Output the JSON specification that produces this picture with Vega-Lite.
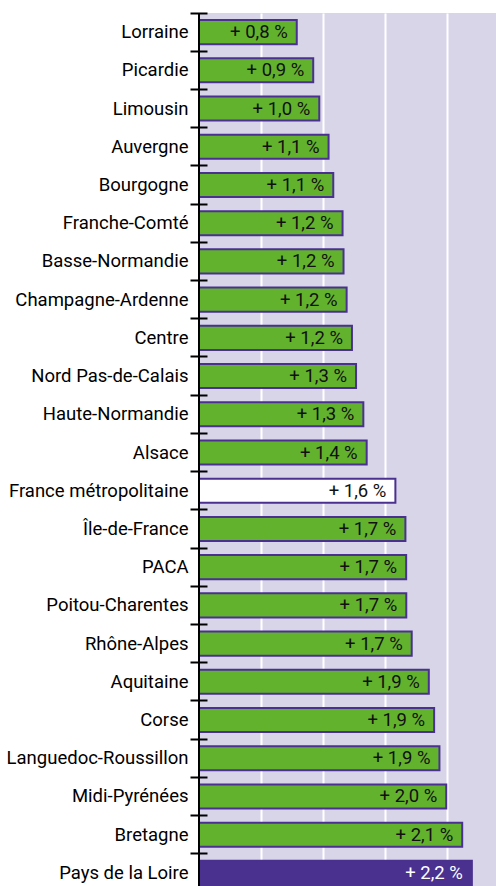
{
  "$schema": "https://vega.github.io/schema/vega-lite/v6.json",
  "autosize": {"type": "none"},
  "padding": {"left": 199, "top": 13, "right": 0, "bottom": 0},
  "width": 297,
  "height": 879,
  "config": {
    "view": {"fill": "#d9d5e9", "stroke": null},
    "font": "Roboto, 'Liberation Sans', sans-serif"
  },
  "data": {
    "values": [
      {"region": "Lorraine", "value": 0.79, "label": "+ 0,8 %", "type": "région"},
      {"region": "Picardie", "value": 0.923, "label": "+ 0,9 %", "type": "région"},
      {"region": "Limousin", "value": 0.972, "label": "+ 1,0 %", "type": "région"},
      {"region": "Auvergne", "value": 1.047, "label": "+ 1,1 %", "type": "région"},
      {"region": "Bourgogne", "value": 1.085, "label": "+ 1,1 %", "type": "région"},
      {"region": "Franche-Comté", "value": 1.16, "label": "+ 1,2 %", "type": "région"},
      {"region": "Basse-Normandie", "value": 1.168, "label": "+ 1,2 %", "type": "région"},
      {"region": "Champagne-Ardenne", "value": 1.193, "label": "+ 1,2 %", "type": "région"},
      {"region": "Centre", "value": 1.236, "label": "+ 1,2 %", "type": "région"},
      {"region": "Nord Pas-de-Calais", "value": 1.269, "label": "+ 1,3 %", "type": "région"},
      {"region": "Haute-Normandie", "value": 1.328, "label": "+ 1,3 %", "type": "région"},
      {"region": "Alsace", "value": 1.355, "label": "+ 1,4 %", "type": "région"},
      {"region": "France métropolitaine", "value": 1.587, "label": "+ 1,6 %", "type": "France"},
      {"region": "Île-de-France", "value": 1.668, "label": "+ 1,7 %", "type": "région"},
      {"region": "PACA", "value": 1.674, "label": "+ 1,7 %", "type": "région"},
      {"region": "Poitou-Charentes", "value": 1.675, "label": "+ 1,7 %", "type": "région"},
      {"region": "Rhône-Alpes", "value": 1.719, "label": "+ 1,7 %", "type": "région"},
      {"region": "Aquitaine", "value": 1.857, "label": "+ 1,9 %", "type": "région"},
      {"region": "Corse", "value": 1.9, "label": "+ 1,9 %", "type": "région"},
      {"region": "Languedoc-Roussillon", "value": 1.943, "label": "+ 1,9 %", "type": "région"},
      {"region": "Midi-Pyrénées", "value": 1.998, "label": "+ 2,0 %", "type": "région"},
      {"region": "Bretagne", "value": 2.127, "label": "+ 2,1 %", "type": "région"},
      {"region": "Pays de la Loire", "value": 2.205, "label": "+ 2,2 %", "type": "Pays de la Loire"}
    ]
  },
  "layer": [
    {
      "mark": {"type": "bar", "height": {"band": 0.63}, "stroke": "#4a3190", "strokeWidth": 2},
      "encoding": {
        "y": {
          "field": "region", "type": "nominal", "sort": null,
          "scale": {"paddingInner": 0, "paddingOuter": 0},
          "axis": {
            "title": null, "bandPosition": 0, "offset": -8, "tickSize": 17, "tickWidth": 2,
            "tickColor": "black", "domain": false, "labelPadding": 2, "labelFontSize": 18.5,
            "labelColor": "black", "labelLimit": 0
          }
        },
        "x": {
          "field": "value", "type": "quantitative",
          "scale": {"domain": [0, 2.4], "nice": false, "zero": true},
          "axis": {
            "title": null, "values": [0.5, 1, 1.5, 2], "grid": true, "gridColor": "white",
            "gridWidth": 2, "gridOpacity": 1, "labels": false, "ticks": false, "domain": false
          }
        },
        "fill": {
          "field": "type", "type": "nominal", "legend": null,
          "scale": {"domain": ["région", "France", "Pays de la Loire"], "range": ["#63b22e", "#ffffff", "#4a3190"]}
        }
      }
    },
    {
      "mark": {"type": "text", "align": "right", "baseline": "middle", "dx": -9, "fontSize": 18.5},
      "encoding": {
        "y": {"field": "region", "type": "nominal", "sort": null},
        "x": {"field": "value", "type": "quantitative"},
        "text": {"field": "label"},
        "color": {
          "field": "type", "type": "nominal", "legend": null,
          "scale": {"domain": ["région", "France", "Pays de la Loire"], "range": ["#111111", "#111111", "#ffffff"]}
        }
      }
    },
    {
      "data": {"values": [{"x0": 0}]},
      "mark": {"type": "rule", "color": "black", "strokeWidth": 2},
      "encoding": {"x": {"field": "x0", "type": "quantitative"}}
    }
  ]
}
